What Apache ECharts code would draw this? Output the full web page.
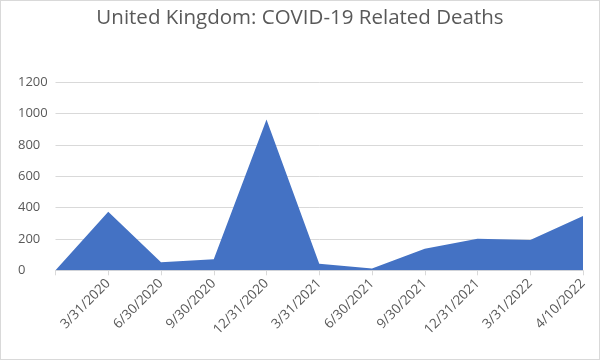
<!DOCTYPE html>
<html><head><meta charset="utf-8">
<script src="https://cdn.jsdelivr.net/npm/echarts@6/dist/echarts.min.js"></script>
<style>html,body{margin:0;padding:0;background:#fff}
#c{width:598px;height:358px;border:1px solid #d9d9d9}</style>
</head><body><div id="c"></div>
<script>
var categories = ['', '3/31/2020', '6/30/2020', '9/30/2020', '12/31/2020', '3/31/2021', '6/30/2021', '9/30/2021', '12/31/2021', '3/31/2022', '4/10/2022'];
var deaths = [0, 374, 51, 71, 963, 42, 12, 138, 202, 193, 346];
var chart = echarts.init(document.getElementById('c'));
var font = '"Open Sans", "Noto Sans", sans-serif';
chart.setOption({
  animation: false,
  title: {text: 'United Kingdom: COVID-19 Related Deaths', left: 'center', top: 2,
    textStyle: {fontFamily: font, fontWeight: 'normal', fontSize: 20.5, color: '#595959'}},
  grid: {left: 54.5, right: 16, top: 81.3, bottom: 88.7},
  xAxis: {type: 'category', data: categories, boundaryGap: false,
    axisLine: {lineStyle: {color: '#d9d9d9'}},
    axisTick: {show: true, length: 5, lineStyle: {color: '#d9d9d9'}},
    axisLabel: {rotate: 45, interval: 0, color: '#595959', fontFamily: font, fontSize: 13.5, margin: 11}},
  yAxis: {type: 'value', min: 0, max: 1200, interval: 200,
    splitLine: {lineStyle: {color: '#d9d9d9'}},
    axisLine: {show: false}, axisTick: {show: false},
    axisLabel: {color: '#595959', fontFamily: font, fontSize: 13, margin: 37.5, align: 'left',
      formatter: function (v) { return String(v); }}},
  series: [{type: 'line', data: deaths, symbol: 'none',
    lineStyle: {width: 0, color: '#4472C4'},
    areaStyle: {color: '#4472C4', opacity: 1}}]
});
</script></body></html>
